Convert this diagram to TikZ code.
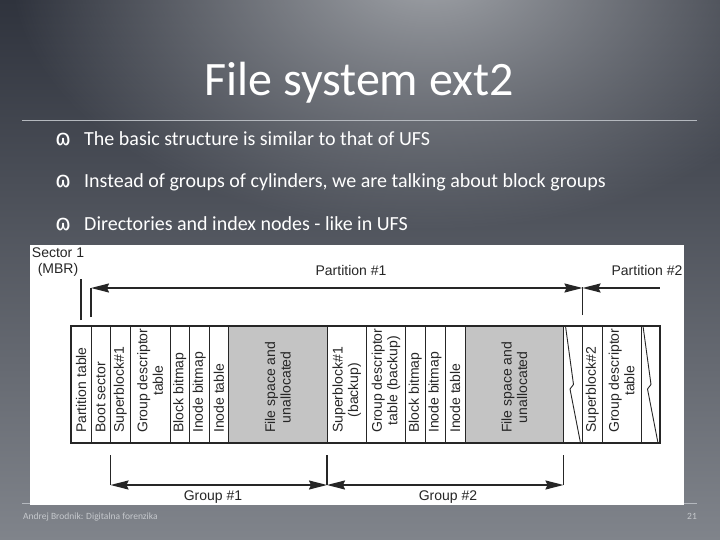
\documentclass[tikz,border=0pt]{standalone}
\usepackage{fontspec}
\setmainfont{Carlito}
\newfontfamily\figfont{Liberation Sans}
\newfontfamily\symfont{DejaVu Sans}
\usepackage{tikz}
\usetikzlibrary{arrows.meta, positioning, fadings}

\definecolor{bgtop}{HTML}{2F333D}
\definecolor{bgmid}{HTML}{3E434D}
\definecolor{bgbot}{HTML}{80848B}
\definecolor{glow}{HTML}{A2A5AA}
\definecolor{rulecol}{HTML}{B4B8BE}
\definecolor{footcol}{HTML}{C6C9CD}
\definecolor{freegray}{HTML}{C4C4C4}

\tikzfading[name=glowfade, inner color=transparent!0, outer color=transparent!100]

\tikzset{
  blk/.style={rectangle, draw=black!85, line width=0.9pt, fill=white,
              minimum height=117pt, inner sep=0pt, outer sep=0pt},
  freeblk/.style={blk, fill=freegray},
  blktxt/.style={rotate=90, anchor=west, align=center, inner sep=0pt,
                 text=black!85, font=\figfont\fontsize{14}{15.5}\selectfont},
  dimtxt/.style={text=black!85, align=center, inner sep=0pt,
                 font=\figfont\fontsize{14}{16}\selectfont},
  dim/.style={draw=black!85, line width=1.5pt},
  bmark/.style={anchor=base west, text=white, inner sep=0pt,
                font=\symfont\fontsize{22}{24}\selectfont},
  btext/.style={anchor=base west, text=white, inner sep=0pt,
                font=\fontsize{20}{24}\selectfont},
  foot/.style={text=footcol, inner sep=0pt, font=\fontsize{9.5}{11}\selectfont},
}

\begin{document}
\begin{tikzpicture}[x=1pt, y=-1pt, >={Stealth[length=18pt,width=9pt,inset=2pt]}]
  \useasboundingbox (0,0) rectangle (720,540);
  % slide background
  \shade[top color=bgtop, middle color=bgmid, bottom color=bgbot] (0,0) rectangle (720,540);
  \fill[glow, path fading=glowfade] (430,-30) ellipse [x radius=420pt, y radius=260pt];

  % title and bullets
  \node[anchor=base, text=white, inner sep=0pt, font=\fontsize{48}{56}\selectfont] (title) at (359,96) {File system ext2};
  \draw[rulecol, line width=0.8pt] (22,120) -- (697,120);
  \node[bmark] (m1) at (55,146) {ɷ};
  \node[btext] (t1) at (84,146) {The basic structure is similar to that of UFS};
  \node[bmark] (m2) at (55,188) {ɷ};
  \node[btext] (t2) at (84,188) {Instead of groups of cylinders, we are talking about block groups};
  \node[bmark] (m3) at (55,230) {ɷ};
  \node[btext] (t3) at (84,230) {Directories and index nodes - like in UFS};

  % footer
  \draw[rulecol, line width=0.6pt] (22,503) -- (697,503);
  \node[foot, anchor=base west] (fl) at (23,519) {Andrej Brodnik: Digitalna forenzika};
  \node[foot, anchor=base] (fr) at (692,519) {21};

  % the figure
  \fill[white] (30,245) rectangle (684,505);

  \node[blk, minimum width=20pt, anchor=north west] (ptab) at (71,326) {};
  \node[blk, minimum width=19.5pt, right=0pt of ptab] (boot) {};
  \node[blk, minimum width=19.5pt, right=0pt of boot] (sba) {};
  \node[blk, minimum width=40pt, right=0pt of sba] (gdta) {};
  \node[blk, minimum width=19.5pt, right=0pt of gdta] (bbma) {};
  \node[blk, minimum width=19.5pt, right=0pt of bbma] (ibma) {};
  \node[blk, minimum width=19.5pt, right=0pt of ibma] (ita) {};
  \node[freeblk, minimum width=98.5pt, right=0pt of ita] (fsa) {};
  \node[blk, minimum width=39.5pt, right=0pt of fsa] (sbb) {};
  \node[blk, minimum width=39pt, right=0pt of sbb] (gdtb) {};
  \node[blk, minimum width=19.5pt, right=0pt of gdtb] (bbmb) {};
  \node[blk, minimum width=20pt, right=0pt of bbmb] (ibmb) {};
  \node[blk, minimum width=20pt, right=0pt of ibmb] (itb) {};
  \node[freeblk, minimum width=98.5pt, right=0pt of itb] (fsb) {};
  \node[blk, minimum width=19pt, right=0pt of fsb] (gapa) {};
  \node[blk, minimum width=19.5pt, right=0pt of gapa] (sbc) {};
  \node[blk, minimum width=39pt, right=0pt of sbc] (gdtc) {};
  \node[blk, minimum width=19pt, right=0pt of gdtc] (gapb) {};
  \draw[black!85, line width=2.2pt] (ptab.north west) rectangle (gapb.south east);

  % breaks
  \draw[black!85, line width=0.9pt] ([xshift=2pt]gapa.north west) -- ([xshift=10pt]gapa.west)
    -- ([xshift=6.5pt,yshift=-4.5pt]gapa.west) -- ([xshift=-2pt]gapa.south east);
  \draw[black!85, line width=0.9pt] ([xshift=2pt]gapb.north west) -- ([xshift=10pt]gapb.west)
    -- ([xshift=6.5pt,yshift=-4.5pt]gapb.west) -- ([xshift=-2pt]gapb.south east);

  \node[blktxt] (ptabl) at ([yshift=10pt]ptab.south) {Partition table};
  \node[blktxt] (bootl) at ([yshift=10pt]boot.south) {Boot sector};
  \node[blktxt] (sbal) at ([yshift=10pt]sba.south) {Superblock\#1};
  \node[blktxt] (gdtal) at ([yshift=10pt]gdta.south) {Group descriptor\\table};
  \node[blktxt] (bbmal) at ([yshift=10pt]bbma.south) {Block bitmap};
  \node[blktxt] (ibmal) at ([yshift=10pt]ibma.south) {Inode bitmap};
  \node[blktxt] (ital) at ([yshift=10pt]ita.south) {Inode table};
  \node[blktxt] (fsal) at ([yshift=10pt]fsa.south) {File space and\\unallocated};
  \node[blktxt] (sbbl) at ([yshift=10pt]sbb.south) {Superblock\#1\\(backup)};
  \node[blktxt] (gdtbl) at ([yshift=10pt]gdtb.south) {Group descriptor\\table (backup)};
  \node[blktxt] (bbmbl) at ([yshift=10pt]bbmb.south) {Block bitmap};
  \node[blktxt] (ibmbl) at ([yshift=10pt]ibmb.south) {Inode bitmap};
  \node[blktxt] (itbl) at ([yshift=10pt]itb.south) {Inode table};
  \node[blktxt] (fsbl) at ([yshift=10pt]fsb.south) {File space and\\unallocated};
  \node[blktxt] (sbcl) at ([yshift=10pt]sbc.south) {Superblock\#2};
  \node[blktxt] (gdtcl) at ([yshift=10pt]gdtc.south) {Group descriptor\\table};

  % partitions
  \node[dimtxt] (sect) at (58,262) {Sector 1\\(MBR)};
  \node[dimtxt] (part1) at (351,270) {Partition \#1};
  \node[dimtxt] (part2) at (647,270) {Partition \#2};
  \draw[dim] ([yshift=6pt]ptab.north) -- ([yshift=47pt]ptab.north);
  \draw[dim] ([yshift=9pt]ptab.north east) -- ([yshift=38pt]ptab.north east);
  \draw[dim] ([yshift=11pt]sbc.north west) -- ([yshift=39pt]sbc.north west);
  \draw[dim, <->] ([yshift=38pt]ptab.north east) -- ([yshift=38pt]sbc.north west);
  \coordinate (p2end) at (660,288);
  \draw[dim, <-] ([yshift=38pt]sbc.north west) -- (p2end);

  % groups
  \node[dimtxt] (grp1) at (213,497) {Group \#1};
  \node[dimtxt] (grp2) at (448,497) {Group \#2};
  \draw[dim] ([yshift=-12pt]boot.south east) -- ([yshift=-42pt]boot.south east);
  \draw[dim] ([yshift=-12pt]fsa.south east) -- ([yshift=-42pt]fsa.south east);
  \draw[dim] ([yshift=-12pt]fsb.south east) -- ([yshift=-42pt]fsb.south east);
  \draw[dim, <->] ([yshift=-42pt]boot.south east) -- ([yshift=-42pt]fsa.south east);
  \draw[dim, <->] ([yshift=-42pt]fsa.south east) -- ([yshift=-42pt]fsb.south east);
\end{tikzpicture}
\end{document}
